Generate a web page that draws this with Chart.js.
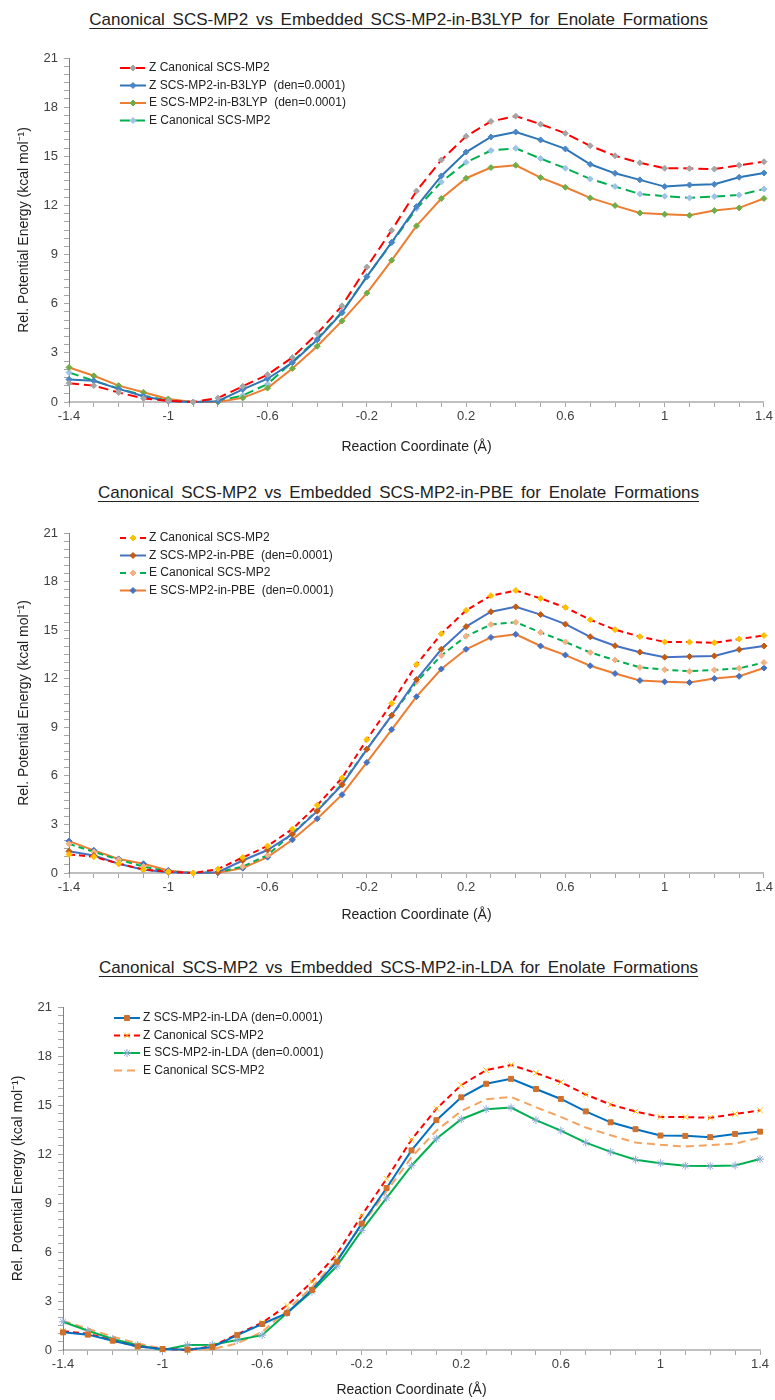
<!DOCTYPE html>
<html>
<head>
<title>Enolate Formations</title>
<script src="https://cdn.jsdelivr.net/npm/chart.js@4.4.0/dist/chart.umd.min.js"></script>
<style>
body { margin: 0; width: 775px; height: 1400px; position: relative; background: #fff; overflow: hidden;
	font-family: 'Liberation Sans', Arial, sans-serif; }
.title { position: absolute; left: 22px; width: 753px; text-align: center; font-size: 17px; line-height: 20px; color: #222; }
.title span { text-decoration: underline; text-underline-offset: 3px; word-spacing: 3px; }
canvas { position: absolute; left: 0; }
</style>
</head>
<body>
<div class="title" style="top:10px"><span>Canonical SCS-MP2 vs Embedded SCS-MP2-in-B3LYP for Enolate Formations</span></div>
<canvas id="c1" width="775" height="424" style="top:36px"></canvas>

<div class="title" style="top:483px"><span>Canonical SCS-MP2 vs Embedded SCS-MP2-in-PBE for Enolate Formations</span></div>
<canvas id="c2" width="775" height="418" style="top:510px"></canvas>

<div class="title" style="top:958px"><span>Canonical SCS-MP2 vs Embedded SCS-MP2-in-LDA for Enolate Formations</span></div>
<canvas id="c3" width="775" height="416" style="top:984px"></canvas>

<script>
// reaction coordinate (Å)
var xValues = [-1.4, -1.3, -1.2, -1.1, -1.0, -0.9, -0.8, -0.7, -0.6, -0.5, -0.4, -0.3, -0.2, -0.1, 0.0,
	0.1, 0.2, 0.3, 0.4, 0.5, 0.6, 0.7, 0.8, 0.9, 1.0, 1.1, 1.2, 1.3, 1.4];
var xTickLabels = ['-1.4', '-1', '-0.6', '-0.2', '0.2', '0.6', '1', '1.4'];
var yTickLabels = ['0', '3', '6', '9', '12', '15', '18', '21'];

// relative energies (kcal/mol)
var zCanonical = [1.15, 1.0, 0.58, 0.22, 0.07, 0.0, 0.24, 0.96, 1.67, 2.72, 4.18, 5.87, 8.24, 10.48, 12.88,
	14.77, 16.22, 17.13, 17.45, 16.96, 16.4, 15.64, 15.03, 14.6, 14.27, 14.26, 14.22, 14.45, 14.67];
var eCanonical = [1.8, 1.3, 0.82, 0.4, 0.08, 0.0, 0.05, 0.4, 1.1, 2.45, 3.85, 5.5, 7.65, 9.72, 11.8,
	13.43, 14.63, 15.35, 15.49, 14.86, 14.27, 13.62, 13.15, 12.7, 12.56, 12.46, 12.54, 12.64, 13.0];
var zB3lyp = [1.38, 1.3, 0.8, 0.35, 0.05, 0.0, 0.05, 0.77, 1.42, 2.4, 3.8, 5.45, 7.65, 9.75, 11.93,
	13.8, 15.26, 16.18, 16.48, 16.0, 15.45, 14.51, 13.96, 13.56, 13.15, 13.25, 13.29, 13.72, 13.98];
var eB3lyp = [2.11, 1.6, 1.0, 0.59, 0.18, 0.0, 0.0, 0.25, 0.85, 2.05, 3.4, 4.95, 6.65, 8.65, 10.75,
	12.42, 13.66, 14.31, 14.45, 13.7, 13.11, 12.46, 11.99, 11.54, 11.46, 11.4, 11.69, 11.85, 12.42];
var zPbe = [1.34, 1.08, 0.57, 0.2, 0.05, 0.0, 0.05, 0.77, 1.42, 2.4, 3.82, 5.45, 7.64, 9.74, 11.95,
	13.82, 15.22, 16.14, 16.44, 15.96, 15.37, 14.59, 14.04, 13.64, 13.33, 13.37, 13.41, 13.8, 14.02];
var ePbe = [1.97, 1.4, 0.87, 0.57, 0.16, 0.0, 0.02, 0.3, 0.98, 2.05, 3.35, 4.84, 6.83, 8.86, 10.89,
	12.6, 13.82, 14.55, 14.74, 14.02, 13.46, 12.8, 12.32, 11.89, 11.81, 11.77, 12.01, 12.15, 12.66];
var zLda = [1.08, 0.94, 0.57, 0.22, 0.06, 0.02, 0.18, 0.91, 1.59, 2.26, 3.68, 5.41, 7.74, 9.92, 12.22,
	14.07, 15.47, 16.3, 16.6, 15.98, 15.37, 14.61, 13.94, 13.52, 13.13, 13.11, 13.03, 13.23, 13.37];
var eLda = [1.73, 1.18, 0.67, 0.3, 0.0, 0.3, 0.32, 0.61, 0.91, 2.26, 3.58, 5.14, 7.32, 9.31, 11.28,
	12.93, 14.13, 14.74, 14.84, 14.07, 13.43, 12.7, 12.13, 11.65, 11.44, 11.28, 11.26, 11.3, 11.69];

var FONT = "'Liberation Sans', Arial, sans-serif";

function points(arr) {
	return xValues.map(function(x, i) { return {x : x, y : arr[i]}; });
}

function series(label, values, line, dash, marker, style, radius) {
	return {
		label : label,
		data : points(values),
		borderColor : line,
		borderWidth : 2,
		borderDash : dash,
		pointStyle : style,
		pointRadius : radius,
		pointBackgroundColor : marker,
		pointBorderColor : marker,
		pointBorderWidth : 1,
		tension : 0,
		fill : false,
		clip : false
	};
}

// legend drawn inside the plot, top-left, one entry per row
var insideLegend = {
	id : 'insideLegend',
	afterDatasetsDraw : function(chart, args, opts) {
		var ctx = chart.ctx;
		ctx.save();
		ctx.font = '12px ' + FONT;
		ctx.textBaseline = 'middle';
		chart.data.datasets.forEach(function(ds, i) {
			var y = opts.y + i * opts.step;
			ctx.strokeStyle = ds.borderColor;
			ctx.lineWidth = 2;
			ctx.setLineDash(ds.borderDash || []);
			ctx.beginPath();
			ctx.moveTo(opts.x, y);
			ctx.lineTo(opts.x + 26, y);
			ctx.stroke();
			ctx.setLineDash([]);
			if (ds.pointRadius > 0) {
				ctx.fillStyle = ds.pointBackgroundColor;
				ctx.strokeStyle = ds.pointBorderColor;
				ctx.lineWidth = 1;
				Chart.helpers.drawPoint(ctx, {pointStyle : ds.pointStyle, radius : ds.pointRadius, rotation : 0, borderWidth : 1}, opts.x + 13, y);
			}
			ctx.fillStyle = '#222';
			ctx.fillText(ds.label, opts.x + 29, y);
		});
		ctx.restore();
	}
};

var yTicks = [];
for (var v = 0; v <= 21; v += 0.5) yTicks.push(v);

function xLabel(value) {
	var i = xValues.indexOf(value);
	return (i >= 0 && i % 4 == 0) ? xTickLabels[i / 4] : '';
}

function makeChart(id, cfg, datasets) {
	var canvas = document.getElementById(id);
	return new Chart(canvas, {
		type : 'line',
		data : { datasets : datasets },
		plugins : [insideLegend],
		options : {
			responsive : false,
			animation : false,
			devicePixelRatio : 1,
			layout : { padding : { top : cfg.padTop, right : 775 - cfg.plotRight, left : 0, bottom : 0 } },
			plugins : {
				legend : { display : false },
				tooltip : { enabled : false },
				insideLegend : { x : cfg.legendX, y : cfg.legendY, step : 17.5 }
			},
			scales : {
				x : {
					type : 'linear', min : -1.4, max : 1.4,
					afterBuildTicks : function(s) { s.ticks = xValues.map(function(v) { return {value : v}; }); },
					afterFit : function(s) { s.height = cfg.xHeight; },
					ticks : { autoSkip : false, maxRotation : 0, padding : 2, color : '#404040',
						font : { family : FONT, size : 13 }, callback : function(v) { return xLabel(v); } },
					grid : { drawOnChartArea : false, tickLength : 5, color : '#A6A6A6' },
					border : { color : '#BFBFBF', width : 2 },
					title : { display : true, text : 'Reaction Coordinate (Å)', color : '#222',
						font : { family : FONT, size : 14 }, padding : { top : 0, bottom : cfg.xTitlePad } }
				},
				y : {
					min : 0, max : 21,
					afterBuildTicks : function(s) { s.ticks = yTicks.map(function(v) { return {value : v}; }); },
					afterFit : function(s) { s.width = cfg.plotLeft; },
					ticks : { autoSkip : false, padding : 6, color : '#404040', font : { family : FONT, size : 13 },
						callback : function(v) { return v % 3 === 0 ? yTickLabels[v / 3] : ''; } },
					grid : { drawOnChartArea : false, tickLength : 5, color : '#A6A6A6' },
					border : { color : '#808080', width : 1 },
					title : { display : true, text : 'Rel. Potential Energy (kcal mol⁻¹)', color : '#222',
						font : { family : FONT, size : 14 }, padding : { top : cfg.yTitlePad, bottom : 0 } }
				}
			}
		}
	});
}

makeChart('c1', { padTop : 22, plotLeft : 69, plotRight : 766, xHeight : 58, xTitlePad : 4, yTitlePad : 16,
	legendX : 120, legendY : 32 }, [
	series('Z Canonical SCS-MP2', zCanonical, '#FF0000', [10, 5], '#A5A5A5', 'rectRot', 3),
	series('Z SCS-MP2-in-B3LYP  (den=0.0001)', zB3lyp, '#2E75B6', [], '#4A86C5', 'rectRot', 3),
	series('E SCS-MP2-in-B3LYP  (den=0.0001)', eB3lyp, '#ED7D31', [], '#70AD47', 'rectRot', 3),
	series('E Canonical SCS-MP2', eCanonical, '#00B050', [10, 5], '#9DC3E6', 'rectRot', 3)
]);

makeChart('c2', { padTop : 23, plotLeft : 69, plotRight : 766, xHeight : 55, xTitlePad : 4, yTitlePad : 16,
	legendX : 120, legendY : 28 }, [
	series('Z Canonical SCS-MP2', zCanonical, '#FF0000', [6, 4], '#FFC000', 'rectRot', 3),
	series('Z SCS-MP2-in-PBE  (den=0.0001)', zPbe, '#4472C4', [], '#C55A11', 'rectRot', 3),
	series('E Canonical SCS-MP2', eCanonical, '#00B050', [6, 4], '#F4B183', 'rectRot', 3),
	series('E SCS-MP2-in-PBE  (den=0.0001)', ePbe, '#ED7D31', [], '#4472C4', 'rectRot', 3)
]);

makeChart('c3', { padTop : 23, plotLeft : 63, plotRight : 760, xHeight : 50, xTitlePad : 1, yTitlePad : 10,
	legendX : 114, legendY : 34 }, [
	series('Z SCS-MP2-in-LDA (den=0.0001)', zLda, '#0070C0', [], '#D0702A', 'rect', 3.5),
	series('Z Canonical SCS-MP2', zCanonical, '#FF0000', [6, 4], '#FFC000', 'crossRot', 4),
	series('E SCS-MP2-in-LDA (den=0.0001)', eLda, '#00B050', [], '#8FAADC', 'star', 4),
	series('E Canonical SCS-MP2', eCanonical, '#F4A460', [8, 5], '#F4A460', 'circle', 0)
]);
</script>
</body>
</html>
